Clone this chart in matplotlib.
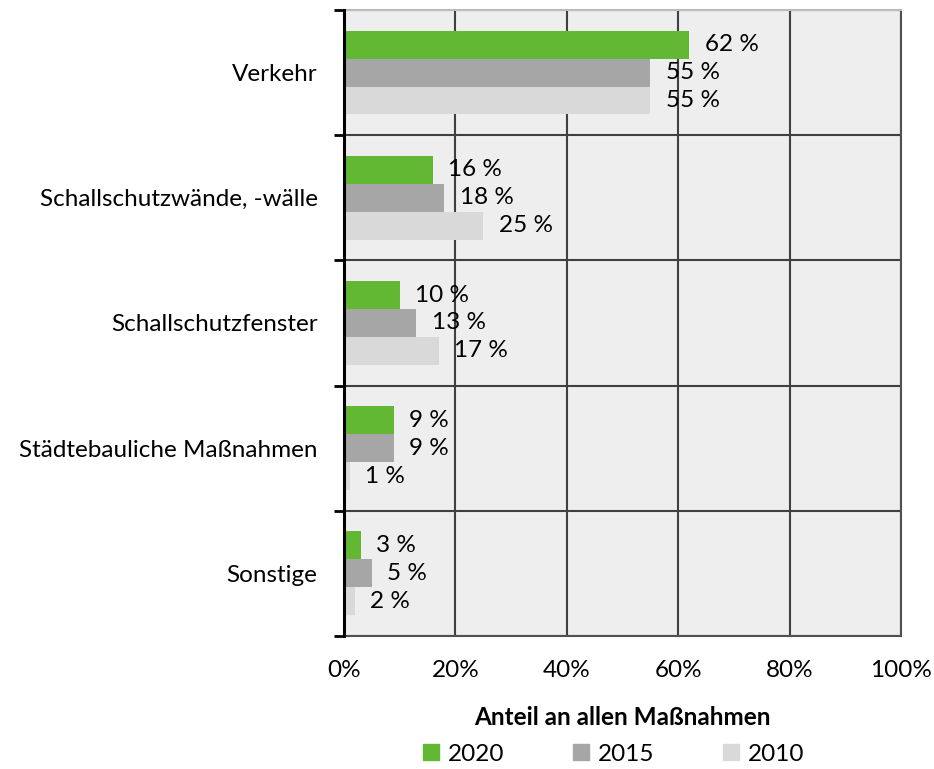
import numpy as np
import matplotlib
matplotlib.use("Agg")
import matplotlib.pyplot as plt
from matplotlib.lines import Line2D

plt.rcParams['font.family'] = ['Lato', 'DejaVu Sans']

categories = ["Verkehr", "Schallschutzwände, -wälle", "Schallschutzfenster",
              "Städtebauliche Maßnahmen", "Sonstige"]
years = ["2020", "2015", "2010"]
v2020 = [62, 16, 10, 9, 3]
v2015 = [55, 18, 13, 9, 5]
v2010 = [55, 25, 17, 1, 2]
colors = ["#62b833", "#a6a6a6", "#d9d9d9"]
xticks = [0, 20, 40, 60, 80, 100]
fs = 17.5

fig = plt.figure(figsize=(9.34, 7.69), dpi=100)
ax = fig.add_axes([0.3683, 0.1730, 0.5964, 0.814])
ax.set_facecolor("#eeeeee")

y = np.arange(len(categories))
h = 0.223
for i, (vals, col) in enumerate(zip([v2020, v2015, v2010], colors)):
    pos = y + (i - 1) * h
    ax.barh(pos, vals, height=h, color=col, zorder=3)
    for p, v in zip(pos, vals):
        ax.annotate(f"{v} %", (v, p), xytext=(11, 0), textcoords="offset points",
                    va="center", ha="left", fontsize=fs, zorder=4)

ax.set_xlim(0, 100)
ax.set_ylim(len(categories) - 0.5, -0.5)

# grid: category boundaries and 20 % steps
ax.set_xticks(xticks)
ax.set_xticklabels([f"{t}%" for t in xticks], fontsize=fs)
ax.tick_params(axis="x", length=0, pad=17)
ax.set_yticks(np.arange(len(categories) + 1) - 0.5)
ax.set_yticklabels([])
ax.tick_params(axis="y", which="major", length=7, width=2, direction="out")
ax.set_yticks(y, minor=True)
ax.set_yticklabels(categories, minor=True, fontsize=fs)
ax.tick_params(axis="y", which="minor", length=0, pad=19)
ax.grid(True, which="major", color="#404040", linewidth=1.5, zorder=1)
ax.set_axisbelow(True)

for s in ["top", "right", "bottom"]:
    ax.spines[s].set_color("#505050")
    ax.spines[s].set_linewidth(1.5)
ax.spines["top"].set_color("#bbbbbb")
ax.spines["left"].set_linewidth(2.2)
ax.spines["left"].set_color("black")
ax.spines["left"].set_zorder(5)

ax.set_xlabel("Anteil an allen Maßnahmen", fontsize=fs, fontweight="bold", labelpad=18)

handles = [Line2D([], [], marker="s", linestyle="none", markersize=12, color=c) for c in colors]
fig.legend(handles, years, loc="lower center", bbox_to_anchor=(0.655, -0.023), ncol=3,
           frameon=False, fontsize=fs, handletextpad=0.2, columnspacing=2.65,
           handlelength=1.0)

fig.savefig("out.png", dpi=100)
